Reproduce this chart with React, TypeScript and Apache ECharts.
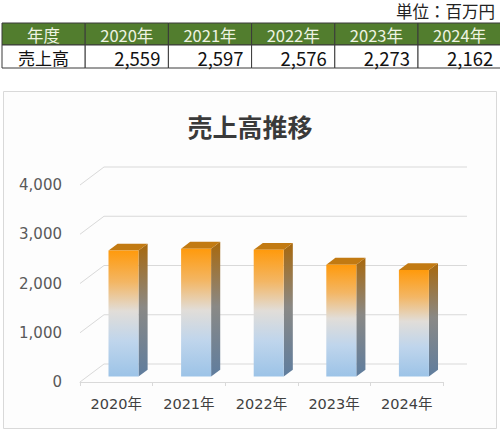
// 売上高推移 — 上に年度別の表、下に Excel 風の 3D 縦棒グラフ。
import * as React from "react";
import * as echarts from "echarts";

const years = ["2020年", "2021年", "2022年", "2023年", "2024年"];
const sales = [2559, 2597, 2576, 2273, 2162];
const yTicks = [0, 1000, 2000, 3000, 4000];
const tableHead = "年度";
const rowLabel = "売上高";
const unitLabel = "単位：百万円";
const chartTitle = "売上高推移";

const FONT = '"Noto Sans CJK JP", "Noto Sans", sans-serif';
const AXIS_FONT = '"DejaVu Sans", "Noto Sans CJK JP", sans-serif';
// 奥行きベクトル(床の前端→奥の壁)
const DX = 24;
const DY = -18;
const BAR_W = 30;

function fmt(v: number) {
  return v.toLocaleString("en-US");
}

function tableGraphics() {
  const x0 = 2;
  const colW = 83.2;
  const top = 23;
  const headH = 22;
  const rowH = 23;
  const els: any[] = [];
  const heads = [tableHead, ...years];
  heads.forEach((h, i) => {
    const x = x0 + i * colW;
    els.push({
      type: "rect",
      shape: { x, y: top, width: colW, height: headH },
      style: { fill: "#527D2E", stroke: "#3a3a3a", lineWidth: 1 },
      z: 10,
    });
    els.push({
      type: "text",
      x: x + colW / 2,
      y: top + headH / 2 + 1,
      style: { text: h, fill: "#EEF3E2", fontSize: 16.5, fontFamily: FONT, align: "center", verticalAlign: "middle" },
      z: 11,
    });
    els.push({
      type: "rect",
      shape: { x, y: top + headH, width: colW, height: rowH },
      style: { fill: "#ffffff", stroke: "#3a3a3a", lineWidth: 1 },
      z: 10,
    });
    const isLabel = i === 0;
    els.push({
      type: "text",
      x: isLabel ? x + colW / 2 : x + colW - 8,
      y: top + headH + rowH / 2 + 1,
      style: {
        text: isLabel ? rowLabel : fmt(sales[i - 1]),
        fill: "#111",
        fontSize: isLabel ? 17 : 18.5,
        fontFamily: FONT,
        align: isLabel ? "center" : "right",
        verticalAlign: "middle",
      },
      z: 11,
    });
  });
  els.push({
    type: "text",
    x: 495,
    y: 11,
    style: { text: unitLabel, fill: "#222", fontSize: 16.5, fontFamily: FONT, align: "right", verticalAlign: "middle" },
    z: 11,
  });
  // グラフ枠
  els.push({
    type: "rect",
    shape: { x: 3.5, y: 91.5, width: 493, height: 337 },
    style: { fill: "#fdfdfd", stroke: "#D9D9D9", lineWidth: 1 },
    z: -10,
  });
  return els;
}

export default function App() {
  const ref = React.useRef<HTMLDivElement | null>(null);

  React.useEffect(() => {
    if (!ref.current) return;
    const chart = echarts.init(ref.current, undefined, { renderer: "svg" });

    const frontGrad = new echarts.graphic.LinearGradient(0, 0, 0, 1, [
      { offset: 0, color: "#FF9A0C" },
      { offset: 0.25, color: "#F3B664" },
      { offset: 0.48, color: "#E1DDD8" },
      { offset: 0.72, color: "#BFD5EC" },
      { offset: 1, color: "#9CC3E7" },
    ]);
    const sideGrad = new echarts.graphic.LinearGradient(0, 0, 0, 1, [
      { offset: 0, color: "#A8680C" },
      { offset: 0.48, color: "#8A8986" },
      { offset: 1, color: "#5F7D9E" },
    ]);

    chart.setOption({
      animation: false,
      backgroundColor: "#ffffff",
      textStyle: { fontFamily: FONT },
      title: {
        text: chartTitle,
        left: "center",
        top: 108,
        textStyle: { fontSize: 25, fontWeight: "bold", color: "#3a3a3a", fontFamily: FONT },
      },
      graphic: tableGraphics(),
      grid: { left: 80, right: 57, top: 185, bottom: 48 },
      xAxis: {
        type: "category",
        data: years,
        axisLine: { lineStyle: { color: "#D9D9D9" } },
        axisTick: { show: true, length: 4, lineStyle: { color: "#D9D9D9" } },
        axisLabel: { color: "#404040", fontSize: 14.5, margin: 15, fontFamily: AXIS_FONT },
        z: 1,
      },
      yAxis: {
        type: "value",
        min: 0,
        max: 4000,
        interval: 1000,
        axisLine: { show: false },
        axisTick: { show: false },
        splitLine: { show: false },
        axisLabel: {
          color: "#595959",
          fontSize: 15,
          margin: 18,
          fontFamily: AXIS_FONT,
          formatter: (v: number) => fmt(v),
        },
      },
      series: [
        {
          type: "custom",
          z: 1,
          silent: true,
          data: yTicks.map((v) => [0, v]),
          renderItem: (params: any, api: any) => {
            const cs = params.coordSys;
            const y = api.coord([0, api.value(1)])[1];
            const left = cs.x;
            const right = cs.x + cs.width;
            const st = { stroke: "#D9D9D9", lineWidth: 1 };
            return {
              type: "group",
              children: [
                { type: "line", shape: { x1: left, y1: y, x2: left + DX, y2: y + DY }, style: st },
                { type: "line", shape: { x1: left + DX, y1: y + DY, x2: right + DX, y2: y + DY }, style: st },
              ],
            };
          },
        },
        {
          type: "custom",
          z: 2,
          data: sales.map((v, i) => [i, v]),
          renderItem: (_params: any, api: any) => {
            const idx = api.value(0);
            const [cx, yb0] = api.coord([idx, 0]);
            const yt0 = api.coord([idx, api.value(1)])[1];
            const ox = DX * 0.3;
            const oy = DY * 0.3;
            const sx = DX * 0.38;
            const sy = DY * 0.38;
            const xl = cx + ox - BAR_W / 2;
            const xr = xl + BAR_W;
            const yb = yb0 + oy;
            const yt = yt0 + oy;
            return {
              type: "group",
              children: [
                {
                  type: "polygon",
                  shape: { points: [[xr, yb], [xr + sx, yb + sy], [xr + sx, yt + sy], [xr, yt]] },
                  style: { fill: sideGrad },
                },
                {
                  type: "polygon",
                  shape: { points: [[xl, yt], [xl + sx, yt + sy], [xr + sx, yt + sy], [xr, yt]] },
                  style: { fill: "#C27A12" },
                },
                {
                  type: "rect",
                  shape: { x: xl, y: yt, width: BAR_W, height: yb - yt },
                  style: { fill: frontGrad },
                },
              ],
            };
          },
        },
      ],
    });

    return () => {
      chart.dispose();
    };
  }, []);

  return (
    <div
      ref={ref}
      style={{ position: "fixed", left: 0, top: 0, width: 500, height: 430 }}
      role="img"
      aria-label="売上高推移"
    />
  );
}
